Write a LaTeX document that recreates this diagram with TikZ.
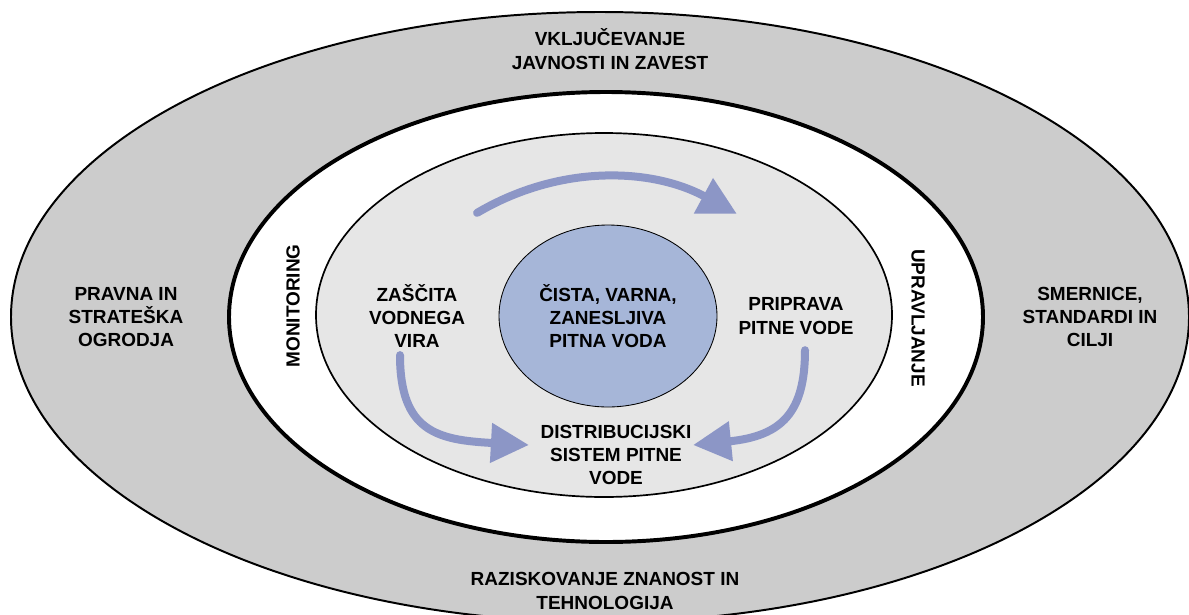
\documentclass[tikz,border=0pt]{standalone}
\usepackage{fontspec}
\setmainfont{Liberation Sans}
\usepackage{xcolor}
\usepackage{tikz}
\usetikzlibrary{arrows.meta,shapes.geometric}
\definecolor{ringGray}{HTML}{CCCCCC}
\definecolor{innerGray}{HTML}{E6E6E6}
\definecolor{coreBlue}{HTML}{A6B6D8}
\definecolor{flowBlue}{HTML}{8C96C6}
\tikzset{
	lbl/.style={font=\fontsize{13.5}{16.6}\selectfont\bfseries, align=center, inner sep=0pt},
	flow/.style={line width=0.2cm, color=flowBlue, line cap=round, -{Triangle[length=0.95cm,width=0.95cm]}}
}

\begin{document}
\begin{tikzpicture}
	\useasboundingbox (0,0) rectangle (29.725,-15.35);
	\clip (0,0) rectangle (29.725,-15.35);
	\foreach \xCoord/\yCoord/\xRad/\yRad/\ringColor/\ringWidth in {15.0/-7.925/14.725/7.625/ringGray/1.4pt, 15.15/-7.925/9.425/5.625/white/2.8pt, 15.1/-7.875/7.2/4.55/innerGray/1.2pt}
	{
		\filldraw[fill=\ringColor, draw=black, line width=\ringWidth] (\xCoord,\yCoord) ellipse [x radius=\xRad, y radius=\yRad];
	}
	\node[lbl] (vkljucevanje) at (15.25,-1.225) {VKLJUČEVANJE\\JAVNOSTI IN ZAVEST};
	\node[lbl] (pravna) at (3.15,-7.925) {PRAVNA IN\\STRATEŠKA\\OGRODJA};
	\node[lbl] (smernice) at (27.25,-7.925) {SMERNICE,\\STANDARDI IN\\CILJI};
	\node[lbl] (raziskovanje) at (15.125,-14.775) {RAZISKOVANJE ZNANOST IN\\TEHNOLOGIJA};
	\node[lbl, rotate=90] (monitoring) at (7.325,-7.65) {MONITORING};
	\node[lbl, rotate=-90] (upravljanje) at (22.95,-7.95) {UPRAVLJANJE};
	\node[lbl, ellipse, draw, fill=coreBlue, line width=0.6pt, minimum width=5.45cm, minimum height=4.55cm] (cista) at (15.2,-7.9) {ČISTA, VARNA,\\ZANESLJIVA\\PITNA VODA};
	\node[lbl] (zascita) at (10.425,-7.9) {ZAŠČITA\\VODNEGA\\VIRA};
	\node[lbl] (priprava) at (19.9,-7.9) {PRIPRAVA\\PITNE VODE};
	\node[lbl] (distribucija) at (15.4,-11.375) {DISTRIBUCIJSKI\\SISTEM PITNE\\VODE};
	\draw[flow] ([shift={(0.295,1.775)}]zascita.north east) .. controls +(2.075,1.225) and +(-2.125,1.15) .. ([shift={(-0.035,2.09)}]priprava.north west);
	\draw[flow] ([shift={(-0.425,-0.175)}]zascita.south) .. controls +(0,-1.925) and +(-2.275,0.125) .. ([shift={(-0.285,0.25)}]distribucija.west);
	\draw[flow] ([shift={(0.225,-0.39)}]priprava.south) .. controls +(0,-1.55) and +(2.225,0.225) .. ([shift={(0.035,0.25)}]distribucija.east);
\end{tikzpicture}
\end{document}
